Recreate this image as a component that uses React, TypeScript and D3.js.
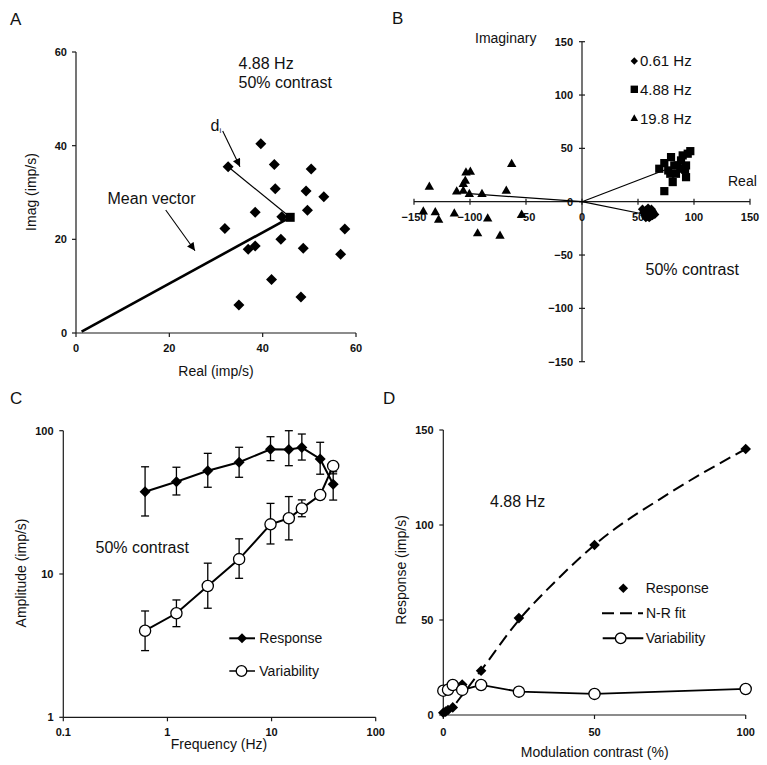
import React from 'react';
import * as d3 from 'd3';

const FONT = "'Liberation Sans', Arial, Helvetica, sans-serif";

// ---------- Panel A data (4.88 Hz, 50% contrast) ----------
const aTicks = [0, 20, 40, 60];
const aReal = [39.6, 42.5, 50.4, 32.6, 42.7, 49.3, 53.1, 38.4, 49.6, 44.1, 31.9, 57.6, 43.9, 36.9, 38.4, 48.7, 56.7, 41.9, 48.2, 34.9];
const aImag = [40.4, 36.0, 35.0, 35.5, 30.8, 30.3, 29.1, 25.8, 26.2, 24.8, 22.3, 22.2, 20.0, 17.9, 18.6, 18.1, 16.8, 11.4, 7.7, 6.0];
const aMean = [45.9, 24.7];
const aVectorStart = [1.2, 0.3];
const aDiPoint = [32.6, 35.5];

// ---------- Panel B data ----------
const bTicks = [-150, -100, -50, 0, 50, 100, 150];
const bLowReal = [54, 55, 56, 57, 58, 58, 59, 60, 61, 62, 63, 64, 65, 56, 60, 62, 57, 59, 61, 63];
const bLowImag = [-7, -10, -13, -8, -11, -14, -9, -12, -10, -13, -9, -11, -12, -11, -15, -7, -15, -6, -14, -13];
const bMidReal = [73.5, 81, 92.9, 69, 73.5, 79.5, 83.9, 77, 85.4, 88.4, 89.9, 92.9, 92, 96.7, 94.4, 82.4, 87.8, 78.8];
const bMidImag = [9.9, 18.4, 23, 30.9, 36.2, 41.8, 26.2, 29.3, 34, 38.7, 43.4, 34, 30, 47.4, 45, 34, 30.9, 26.2];
const bHighReal = [-136.3, -141.7, -131, -128, -114, -111.9, -106, -106, -104.2, -103.6, -99.7, -100.6, -89.3, -84.2, -93.2, -73.2, -67.6, -62.8, -53.9];
const bHighImag = [14.3, -8.8, -9.7, -16.6, -10.7, 9.9, 10.6, 16.9, 20, 27.7, 28.4, 7.5, 7.5, -15.4, -29.4, -31.6, 10.6, 35.6, -11.9];
const bMeanLow = [59, -12.5];
const bMeanMid = [82, 33];
const bMeanHigh = [-100.6, 7.5];
const bLegend = ['0.61 Hz', '4.88 Hz', '19.8 Hz'];

// ---------- Panel C data ----------
const cXTicks = [0.1, 1, 10, 100];
const cYTicks = [1, 10, 100];
const cFreq = [0.61, 1.22, 2.44, 4.88, 9.77, 14.65, 19.53, 29.3, 39.06];
const cRespMean = [37.5, 44, 52.6, 60.2, 74.2, 74, 76.2, 63.5, 42.3];
const cRespHi = [56, 55.6, 69.5, 76.6, 90.8, 100, 94.8, 83, 51.7];
const cRespLo = [25.4, 35.6, 40.3, 47.3, 61.8, 57, 62.4, 49.7, 32.8];
const cVarMean = [4.02, 5.32, 8.25, 12.7, 22.2, 24.5, 28.7, 35.6, 56.8];
const cVarHi = [5.52, 6.59, 11.9, 17.6, 31.1, 34.7, 32.9, 37.5, 60];
const cVarLo = [2.92, 4.29, 5.77, 9.33, 16.2, 17.3, 25.1, 33.8, 50];

// ---------- Panel D data ----------
const dXTicks = [0, 50, 100];
const dYTicks = [0, 50, 100, 150];
const dRespContrast = [0, 0.78, 1.56, 3.125, 6.25, 12.5, 25, 50, 100];
const dResp = [1.2, 1.8, 2.6, 4, 16, 23.3, 51, 89.5, 140];
const dVarContrast = [0, 1.56, 3.125, 6.25, 12.5, 25, 50, 100];
const dVar = [12.8, 13.3, 15.8, 13.2, 15.8, 12.3, 11.1, 13.7];
const dFitContrast = [0, 3, 6.25, 12.5, 25, 37.5, 50, 75, 100];
const dFit = [0, 4, 10.5, 23.5, 50, 71, 89.5, 117, 140];

// ---------- helpers ----------
const diamond = (x: number, y: number, r: number) => `M${x},${y - r}L${x + r},${y}L${x},${y + r}L${x - r},${y}Z`;
const square = (x: number, y: number, s: number) => `M${x - s},${y - s}h${2 * s}v${2 * s}h${-2 * s}Z`;
const triangle = (x: number, y: number, s: number) => `M${x},${y - s * 1.05}L${x + s},${y + s * 0.7}L${x - s},${y + s * 0.7}Z`;

const AX = '#1a1a1a';
const tickFont = { fontFamily: FONT, fontSize: 11, fontWeight: 700, fill: '#111' } as const;
const labelFont = { fontFamily: FONT, fontSize: 14, fill: '#111' } as const;

function PanelA() {
  const x = d3.scaleLinear().domain([0, 60]).range([76, 356]);
  const y = d3.scaleLinear().domain([0, 60]).range([333, 52]);
  return (
    <g>
      <text x={10} y={25} style={{ fontFamily: FONT, fontSize: 17, fill: '#111' }}>A</text>
      <line x1={x(0)} x2={x(60)} y1={y(0)} y2={y(0)} stroke={AX} strokeWidth={1.2} />
      <line x1={x(0)} x2={x(0)} y1={y(0)} y2={y(60)} stroke={AX} strokeWidth={1.2} />
      {aTicks.map(t => (
        <g key={'ax' + t}>
          <line x1={x(t)} x2={x(t)} y1={y(0)} y2={y(0) + 4} stroke={AX} strokeWidth={1.2} />
          <text x={x(t)} y={348} dy="0.35em" textAnchor="middle" style={tickFont}>{t}</text>
          <line x1={x(0) - 4} x2={x(0)} y1={y(t)} y2={y(t)} stroke={AX} strokeWidth={1.2} />
          <text x={67} y={y(t)} dy="0.35em" textAnchor="end" style={tickFont}>{t}</text>
        </g>
      ))}
      <text x={216} y={371} dy="0.35em" textAnchor="middle" style={labelFont}>Real (imp/s)</text>
      <text transform="translate(31,192) rotate(-90)" dy="0.35em" textAnchor="middle" style={labelFont}>Imag (imp/s)</text>
      <line x1={x(aVectorStart[0])} y1={y(aVectorStart[1])} x2={x(aMean[0])} y2={y(aMean[1])} stroke="#000" strokeWidth={2.6} />
      <line x1={x(aDiPoint[0])} y1={y(aDiPoint[1])} x2={x(aMean[0])} y2={y(aMean[1])} stroke="#000" strokeWidth={1.2} />
      {aReal.map((r, i) => <path key={i} d={diamond(x(r), y(aImag[i]), 5.5)} fill="#000" />)}
      <path d={square(x(aMean[0]), y(aMean[1]), 4.5)} fill="#000" />
      <text x={238.5} y={69} style={{ fontFamily: FONT, fontSize: 16, fill: '#111' }}>4.88 Hz</text>
      <text x={238.5} y={87.5} style={{ fontFamily: FONT, fontSize: 16, fill: '#111' }}>50% contrast</text>
      <text x={107.5} y={203.5} style={{ fontFamily: FONT, fontSize: 16, fill: '#111' }}>Mean vector</text>
      <line x1={165.7} y1={210} x2={195} y2={250.7} stroke="#000" strokeWidth={1.1} markerEnd="url(#arrowHead)" />
      <text x={210.5} y={130.5} style={{ fontFamily: FONT, fontSize: 16, fill: '#111' }}>d</text>
      <text x={219.5} y={133} style={{ fontFamily: FONT, fontSize: 8, fill: '#111' }}>i</text>
      <line x1={222.7} y1={131} x2={240} y2={166.7} stroke="#000" strokeWidth={1.1} markerEnd="url(#arrowHead)" />
    </g>
  );
}

function PanelB() {
  const x = d3.scaleLinear().domain([-150, 150]).range([414, 750]);
  const y = d3.scaleLinear().domain([-150, 150]).range([361.7, 41.7]);
  const fmt = (t: number) => (t < 0 ? '\u2212' + Math.abs(t) : String(t));
  const legY = [61, 89.3, 118.3];
  return (
    <g>
      <text x={392} y={24} style={{ fontFamily: FONT, fontSize: 17, fill: '#111' }}>B</text>
      <line x1={x(-150)} x2={x(150)} y1={y(0)} y2={y(0)} stroke={AX} strokeWidth={1.2} />
      <line x1={x(0)} x2={x(0)} y1={y(-150)} y2={y(150)} stroke={AX} strokeWidth={1.2} />
      {bTicks.map(t => (
        <g key={'b' + t}>
          <line x1={x(t)} x2={x(t)} y1={y(0) - 3} y2={y(0) + 3} stroke={AX} strokeWidth={1.2} />
          <text x={x(t)} y={216.7} dy="0.35em" textAnchor="middle" style={tickFont}>{fmt(t)}</text>
          <line x1={x(0) - 3} x2={x(0) + 3} y1={y(t)} y2={y(t)} stroke={AX} strokeWidth={1.2} />
          <text x={573} y={y(t)} dy="0.35em" textAnchor="end" style={tickFont}>{fmt(t)}</text>
        </g>
      ))}
      <text x={475} y={38.5} dy="0.35em" style={labelFont}>Imaginary</text>
      <text x={728} y={181.5} dy="0.35em" style={labelFont}>Real</text>
      <line x1={x(0)} y1={y(0)} x2={x(bMeanLow[0])} y2={y(bMeanLow[1])} stroke="#000" strokeWidth={1.2} />
      <line x1={x(0)} y1={y(0)} x2={x(bMeanMid[0])} y2={y(bMeanMid[1])} stroke="#000" strokeWidth={1.2} />
      <line x1={x(0)} y1={y(0)} x2={x(bMeanHigh[0])} y2={y(bMeanHigh[1])} stroke="#000" strokeWidth={1.2} />
      {bLowReal.map((r, i) => <path key={'l' + i} d={diamond(x(r), y(bLowImag[i]), 4.6)} fill="#000" />)}
      {bMidReal.map((r, i) => <path key={'m' + i} d={square(x(r), y(bMidImag[i]), 4.1)} fill="#000" />)}
      {bHighReal.map((r, i) => <path key={'h' + i} d={triangle(x(r), y(bHighImag[i]), 4.7)} fill="#000" />)}
      <path d={diamond(634.3, legY[0], 3.7)} fill="#000" />
      <path d={square(634.3, legY[1], 3.7)} fill="#000" />
      <path d={triangle(634.3, legY[2], 3.8)} fill="#000" />
      {bLegend.map((s, i) => (
        <text key={s} x={640} y={legY[i]} dy="0.35em" style={{ fontFamily: FONT, fontSize: 15, fill: '#111' }}>{s}</text>
      ))}
      <text x={645.5} y={275} style={{ fontFamily: FONT, fontSize: 16, fill: '#111' }}>50% contrast</text>
    </g>
  );
}

function PanelC() {
  const x = d3.scaleLog().domain([0.1, 100]).range([63.3, 375.7]);
  const y = d3.scaleLog().domain([1, 100]).range([717.3, 430.7]);
  const line = d3.line<number>().x((_, i) => x(cFreq[i])).y(v => y(v));
  return (
    <g>
      <text x={10} y={404} style={{ fontFamily: FONT, fontSize: 17, fill: '#111' }}>C</text>
      <line x1={x(0.1)} x2={x(100)} y1={y(1)} y2={y(1)} stroke={AX} strokeWidth={1.2} />
      <line x1={x(0.1)} x2={x(0.1)} y1={y(1)} y2={y(100)} stroke={AX} strokeWidth={1.2} />
      {cXTicks.map(t => (
        <g key={'cx' + t}>
          <line x1={x(t)} x2={x(t)} y1={y(1)} y2={y(1) + 4} stroke={AX} strokeWidth={1.2} />
          <text x={x(t)} y={731.7} dy="0.35em" textAnchor="middle" style={tickFont}>{t}</text>
        </g>
      ))}
      {cYTicks.map(t => (
        <g key={'cy' + t}>
          <line x1={x(0.1) - 4} x2={x(0.1)} y1={y(t)} y2={y(t)} stroke={AX} strokeWidth={1.2} />
          <text x={53.5} y={y(t)} dy="0.35em" textAnchor="end" style={tickFont}>{t}</text>
        </g>
      ))}
      <text x={219} y={744} dy="0.35em" textAnchor="middle" style={labelFont}>Frequency (Hz)</text>
      <text transform="translate(21,573) rotate(-90)" dy="0.35em" textAnchor="middle" style={labelFont}>Amplitude (imp/s)</text>
      <text x={95.5} y={553.3} style={{ fontFamily: FONT, fontSize: 16, fill: '#111' }}>50% contrast</text>
      {cFreq.map((f, i) => (
        <g key={'ce' + i} stroke="#000" strokeWidth={1.3}>
          <line x1={x(f)} x2={x(f)} y1={y(cRespLo[i])} y2={y(cRespHi[i])} />
          <line x1={x(f) - 4} x2={x(f) + 4} y1={y(cRespLo[i])} y2={y(cRespLo[i])} />
          <line x1={x(f) - 4} x2={x(f) + 4} y1={y(cRespHi[i])} y2={y(cRespHi[i])} />
          <line x1={x(f)} x2={x(f)} y1={y(cVarLo[i])} y2={y(cVarHi[i])} />
          <line x1={x(f) - 4} x2={x(f) + 4} y1={y(cVarLo[i])} y2={y(cVarLo[i])} />
          <line x1={x(f) - 4} x2={x(f) + 4} y1={y(cVarHi[i])} y2={y(cVarHi[i])} />
        </g>
      ))}
      <path d={line(cRespMean) || ''} fill="none" stroke="#000" strokeWidth={2} />
      <path d={line(cVarMean) || ''} fill="none" stroke="#000" strokeWidth={2} />
      {cFreq.map((f, i) => <path key={'cr' + i} d={diamond(x(f), y(cRespMean[i]), 5.5)} fill="#000" />)}
      {cFreq.map((f, i) => <circle key={'cv' + i} cx={x(f)} cy={y(cVarMean[i])} r={5.6} fill="#fff" stroke="#000" strokeWidth={1.3} />)}
      <line x1={229.3} x2={255} y1={638.3} y2={638.3} stroke="#000" strokeWidth={2} />
      <path d={diamond(242, 638.3, 5)} fill="#000" />
      <text x={259.3} y={638.3} dy="0.35em" style={labelFont}>Response</text>
      <line x1={229.3} x2={255} y1={671} y2={671} stroke="#000" strokeWidth={1.5} />
      <circle cx={241.5} cy={671} r={5.3} fill="#fff" stroke="#000" strokeWidth={1.3} />
      <text x={259.3} y={671} dy="0.35em" style={labelFont}>Variability</text>
    </g>
  );
}

function PanelD() {
  const x = d3.scaleLinear().domain([0, 100]).range([443.3, 745.7]);
  const y = d3.scaleLinear().domain([0, 150]).range([715, 430]);
  const fitLine = d3.line<number>().x((_, i) => x(dFitContrast[i])).y(v => y(v)).curve(d3.curveMonotoneX);
  const varLine = d3.line<number>().x((_, i) => x(dVarContrast[i])).y(v => y(v));
  return (
    <g>
      <text x={383} y={404} style={{ fontFamily: FONT, fontSize: 17, fill: '#111' }}>D</text>
      <line x1={x(0)} x2={x(100)} y1={y(0)} y2={y(0)} stroke={AX} strokeWidth={1.2} />
      <line x1={x(0)} x2={x(0)} y1={y(0)} y2={y(150)} stroke={AX} strokeWidth={1.2} />
      {dXTicks.map(t => (
        <g key={'dx' + t}>
          <line x1={x(t)} x2={x(t)} y1={y(0)} y2={y(0) + 4} stroke={AX} strokeWidth={1.2} />
          <text x={x(t)} y={731.7} dy="0.35em" textAnchor="middle" style={tickFont}>{t}</text>
        </g>
      ))}
      {dYTicks.map(t => (
        <g key={'dy' + t}>
          <line x1={x(0) - 4} x2={x(0)} y1={y(t)} y2={y(t)} stroke={AX} strokeWidth={1.2} />
          <text x={433.5} y={y(t)} dy="0.35em" textAnchor="end" style={tickFont}>{t}</text>
        </g>
      ))}
      <text x={594.7} y={752.5} dy="0.35em" textAnchor="middle" style={labelFont}>Modulation contrast (%)</text>
      <text transform="translate(401,570) rotate(-90)" dy="0.35em" textAnchor="middle" style={labelFont}>Response (imp/s)</text>
      <text x={490} y={506.5} style={{ fontFamily: FONT, fontSize: 16, fill: '#111' }}>4.88 Hz</text>
      <path d={fitLine(dFit) || ''} fill="none" stroke="#000" strokeWidth={2} strokeDasharray="12,6" />
      {dRespContrast.map((c, i) => <path key={'dr' + i} d={diamond(x(c), y(dResp[i]), 5.3)} fill="#000" />)}
      <path d={varLine(dVar) || ''} fill="none" stroke="#000" strokeWidth={1.8} />
      {dVarContrast.map((c, i) => <circle key={'dv' + i} cx={x(c)} cy={y(dVar[i])} r={5.6} fill="#fff" stroke="#000" strokeWidth={1.3} />)}
      <path d={diamond(623.3, 588.3, 4.8)} fill="#000" />
      <text x={645.7} y={588.3} dy="0.35em" style={labelFont}>Response</text>
      <line x1={602} x2={643} y1={613.3} y2={613.3} stroke="#000" strokeWidth={2} strokeDasharray="12,6" />
      <text x={646} y={613.3} dy="0.35em" style={labelFont}>N-R fit</text>
      <line x1={602.7} x2={643.3} y1={638.3} y2={638.3} stroke="#000" strokeWidth={2} />
      <circle cx={620.7} cy={638.3} r={5.3} fill="#fff" stroke="#000" strokeWidth={1.3} />
      <text x={645.7} y={638.3} dy="0.35em" style={labelFont}>Variability</text>
    </g>
  );
}

export default function App() {
  return (
    <svg width={767} height={765} viewBox="0 0 767 765" style={{ position: 'absolute', left: 0, top: 0, background: '#fff' }}>
      <defs>
        <marker id="arrowHead" viewBox="0 0 10 10" refX={10} refY={5} markerWidth={9} markerHeight={8} orient="auto" markerUnits="userSpaceOnUse">
          <path d="M0,0L10,5L0,10Z" fill="#000" />
        </marker>
      </defs>
      <rect x={0} y={0} width={767} height={765} fill="#fff" />
      <PanelA />
      <PanelB />
      <PanelC />
      <PanelD />
    </svg>
  );
}
